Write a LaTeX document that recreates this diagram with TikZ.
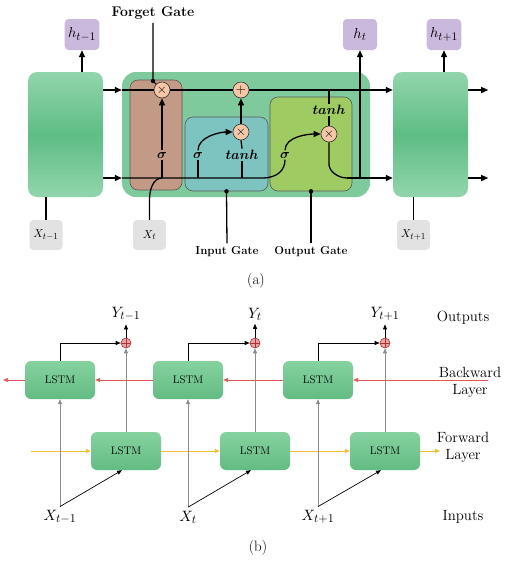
\documentclass[tikz,border=0pt]{standalone}
\usepackage{amsmath}
\usepackage{amssymb}
\usepackage{tikz}
\usetikzlibrary{arrows.meta, positioning, shapes}
\DeclareFontShape{OML}{cmm}{m}{it}{<->cmmi10}{}
\DeclareFontShape{OML}{cmm}{b}{it}{<->cmmib10}{}
\DeclareFontShape{OMS}{cmsy}{m}{n}{<->cmsy10}{}
\DeclareFontShape{OMS}{cmsy}{b}{n}{<->cmbsy10}{}
\DeclareFontShape{OT1}{cmr}{m}{n}{<->cmr10}{}
\DeclareFontShape{OT1}{cmr}{bx}{n}{<->cmbx10}{}
\makeatletter
\def\defaultscriptratio{.8}
\makeatother
\definecolor{cellLight}{HTML}{92D5AC}
\definecolor{cellDark}{HTML}{5EBD84}
\definecolor{chainGreen}{HTML}{7FCA9C}
\definecolor{forgetBrown}{HTML}{C29A85}
\definecolor{inputTeal}{HTML}{7DC3C0}
\definecolor{outputOlive}{HTML}{9ECC62}
\definecolor{opFill}{HTML}{F6C7A6}
\definecolor{hPurple}{HTML}{CBB9DD}
\definecolor{xGray}{HTML}{E2E2E2}
\definecolor{lstmTop}{HTML}{86D29F}
\definecolor{lstmBot}{HTML}{62BC82}
\definecolor{sumPink}{HTML}{EBA3A3}
\definecolor{sumRed}{HTML}{A83434}
\definecolor{backRed}{HTML}{E15757}
\definecolor{fwdYellow}{HTML}{F0BE30}
\tikzstyle{cell} = [rounded corners=9pt, minimum width=75pt, minimum height=125pt, top color=cellLight, bottom color=cellLight, middle color=cellDark]
\tikzstyle{chain} = [rounded corners=14pt, fill=chainGreen, minimum width=248pt, minimum height=125pt]
\tikzstyle{gatebox} = [draw=black!65, line width=0.6pt, rounded corners=8pt]
\tikzstyle{hbox} = [fill=hPurple, rounded corners=4pt, minimum width=34pt, minimum height=31pt, font=\fontsize{14.5}{16}\selectfont]
\tikzstyle{xbox} = [fill=xGray, rounded corners=4pt, minimum width=33pt, minimum height=30pt, font=\fontsize{11.5}{13}\selectfont]
\tikzstyle{op} = [circle, draw=black!80, line width=0.6pt, fill=opFill, inner sep=0pt, minimum size=16pt, font=\fontsize{13}{13}\selectfont]
\tikzstyle{fn} = [inner sep=1.5pt, font=\fontsize{13.5}{15}\selectfont]
\tikzstyle{gatename} = [font=\fontsize{11.5}{14}\selectfont\bfseries]
\tikzstyle{wire} = [line width=1.3pt]
\tikzstyle{warrow} = [line width=1.3pt, -{Triangle[length=7pt,width=6pt]}]
\tikzstyle{lstm} = [rounded corners=6pt, minimum width=70pt, minimum height=38pt, top color=lstmTop, bottom color=lstmBot, font=\fontsize{11}{13}\selectfont]
\tikzstyle{sum} = [circle, draw=sumRed, line width=0.6pt, fill=sumPink, minimum size=10pt, inner sep=0pt,
  path picture={\draw[sumRed, line width=0.6pt] (path picture bounding box.north) -- (path picture bounding box.south)
  (path picture bounding box.west) -- (path picture bounding box.east);}]
\tikzstyle{barrow} = [line width=0.7pt, -{Triangle[length=5pt,width=4pt]}]
\tikzstyle{greyarrow} = [barrow, draw=black!45]
\tikzstyle{mathlabel} = [font=\fontsize{15}{17}\selectfont]
\tikzstyle{layername} = [align=center, font=\fontsize{14.8}{17}\selectfont]

\begin{document}
\begin{tikzpicture}[x=1pt, y=-1pt]
	\useasboundingbox[fill=white] (0,0) rectangle (513,563);
	% (a) one LSTM cell
	\node[cell] (prev) at (65.5,134.5) {};
	\node[cell] (next) at (430.5,134.5) {};
	\node[chain] (lstmcell) at (246,134.5) {};
	\node[gatebox, fill=forgetBrown, minimum width=52pt, minimum height=110pt] (fg) at (156,135) {};
	\node[gatebox, fill=inputTeal, minimum width=83pt, minimum height=74pt] (ig) at (226.5,154) {};
	\node[gatebox, fill=outputOlive, minimum width=82pt, minimum height=94pt] (og) at (311,144) {};
	\node[hbox] (hprev) at (82,34.5) {$h_{t-1}$};
	\node[hbox] (hcur) at (360,34.5) {$h_t$};
	\node[hbox] (hnext) at (444,34.5) {$h_{t+1}$};
	\node[xbox] (xprev) at (46,235) {$X_{t-1}$};
	\node[xbox] (xcur) at (149.5,235) {$X_t$};
	\node[xbox] (xnext) at (413.5,235) {$X_{t+1}$};
	\node[op] (fx) at (162,90) {$\times$};
	\node[op] (add) at (241,90) {$+$};
	\node[op] (ix) at (241,132) {$\times$};
	\node[op] (ox) at (329,134) {$\times$};
	\node[fn] (fs) at (162,155) {$\boldsymbol{\sigma}$};
	\node[fn] (is) at (198,155) {$\boldsymbol{\sigma}$};
	\node[fn] (it) at (242,155) {$\boldsymbol{tanh}$};
	\node[fn] (os) at (285,155) {$\boldsymbol{\sigma}$};
	\node[fn] (ot) at (329,110) {$\boldsymbol{tanh}$};
	\node[gatename, font=\fontsize{14}{16}\selectfont\bfseries] (fgl) at (153,13) {Forget Gate};
	\node[gatename] (igl) at (227,252) {Input Gate};
	\node[gatename] (ogl) at (311,252) {Output Gate};
	\coordinate (ctop) at (0,90);
	\coordinate (cbot) at (0,178);
	\coordinate (fdot) at (153,81);
	\coordinate (obend) at (262,178);
	\coordinate (ojoin) at (347,178);
	% cell state and hidden state
	\draw[warrow] (prev.east |- ctop) -- (lstmcell.west |- ctop);
	\draw[wire] (lstmcell.west |- ctop) -- (fx) -- (add);
	\draw[warrow] (add) -- (next.west |- ctop);
	\draw[warrow] (prev.east |- cbot) -- (lstmcell.west |- cbot);
	\draw[wire] (lstmcell.west |- cbot) -- (obend) .. controls +(16,0) and +(0,10) .. (os.south);
	\draw[warrow] (ojoin) -- (next.west |- cbot);
	\draw[warrow] (next.east |- ctop) -- +(20,0);
	\draw[warrow] (next.east |- cbot) -- +(20,0);
	\draw[warrow] (hprev |- prev.north) -- (hprev.south);
	\draw[warrow] (hnext |- next.north) -- (hnext.south);
	\draw[warrow] (hcur |- cbot) -- (hcur.south);
	\draw[wire] (xprev.north) -- (xprev |- prev.south);
	\draw[wire] (xnext.north) -- (xnext |- next.south);
	\draw[wire] (xcur.north) -- ++(0,-20) .. controls +(0,-10) and +(-9,0) .. (fs |- cbot);
	% forget gate
	\draw[wire] (fgl.south) -- (fdot) -- (fx);
	\fill (fdot) circle (2.2);
	\draw[warrow] (fs.north) -- (fx.south);
	\draw[wire] (fs.south) -- (fs |- cbot);
	% input gate
	\draw[wire] (is.south) -- (is |- cbot);
	\draw[wire] (it.south) -- (it |- cbot);
	\draw[wire] (it.north) -- (ix.south);
	\draw[warrow] (is.north) .. controls +(0,-14) and +(-12,0) .. (ix.west);
	\draw[warrow] (ix.north) -- (add.south);
	\draw[wire] (ig.south) -- (igl.north);
	\fill (ig.south) circle (2.2);
	% output gate
	\draw[warrow] (os.north) .. controls +(0,-14) and +(-12,0) .. (ox.west);
	\draw[wire] (ot |- ctop) -- (ot.north);
	\draw[wire] (ot.south) -- (ox.north);
	\draw[wire] (ox.south) -- ++(0,22) .. controls +(0,7) and +(-9,0) .. (ojoin);
	\draw[wire] (og.south) -- (ogl.north);
	\fill (og.south) circle (2.2);
	\node[mathlabel] (capa) at (256,281) {(a)};
	% (b) bidirectional LSTM
	\node[lstm] (b1) at (60,380) {LSTM};
	\node[lstm] (b2) at (188,380) {LSTM};
	\node[lstm] (b3) at (318,380) {LSTM};
	\node[lstm] (f1) at (126,451) {LSTM};
	\node[lstm] (f2) at (255,451) {LSTM};
	\node[lstm] (f3) at (385,451) {LSTM};
	\node[sum] (p1) at (126,343) {};
	\node[sum] (p2) at (255,343) {};
	\node[sum] (p3) at (385,343) {};
	\node[mathlabel] (y1) at (126,314) {$Y_{t-1}$};
	\node[mathlabel] (y2) at (255,314) {$Y_t$};
	\node[mathlabel] (y3) at (385,314) {$Y_{t+1}$};
	\node[mathlabel] (x1) at (60,517) {$X_{t-1}$};
	\node[mathlabel] (x2) at (188,517) {$X_t$};
	\node[mathlabel] (x3) at (318,517) {$X_{t+1}$};
	\node[layername] (outl) at (463,318) {Outputs};
	\node[layername] (bwl) at (470,382) {Backward\\Layer};
	\node[layername] (fwl) at (463,447) {Forward\\Layer};
	\node[layername] (inl) at (463,517) {Inputs};
	\node[mathlabel] (capb) at (258,548) {(b)};
	\coordinate (bin) at (488,380);
	\coordinate (bout) at (3,380);
	\coordinate (fin) at (31,451);
	\coordinate (fout) at (440,451);
	\draw[barrow, draw=backRed, color=backRed] (bin) -- (b3.east);
	\draw[barrow, draw=backRed, color=backRed] (b3.west) -- (b2.east);
	\draw[barrow, draw=backRed, color=backRed] (b2.west) -- (b1.east);
	\draw[barrow, draw=backRed, color=backRed] (b1.west) -- (bout);
	\draw[barrow, draw=fwdYellow, color=fwdYellow] (fin) -- (f1.west);
	\draw[barrow, draw=fwdYellow, color=fwdYellow] (f1.east) -- (f2.west);
	\draw[barrow, draw=fwdYellow, color=fwdYellow] (f2.east) -- (f3.west);
	\draw[barrow, draw=fwdYellow, color=fwdYellow] (f3.east) -- (fout);
	\foreach \i in {1,2,3} {
		\draw[barrow] (p\i.north) -- (y\i.south);
		\draw[greyarrow] (f\i.north) -- (p\i.south);
		\draw[barrow] (b\i.north) |- (p\i.west);
		\draw[greyarrow] (x\i.north) -- (b\i.south);
		\draw[barrow] (x\i.north) -- ([xshift=-4pt]f\i.south);
	}
\end{tikzpicture}
\end{document}
